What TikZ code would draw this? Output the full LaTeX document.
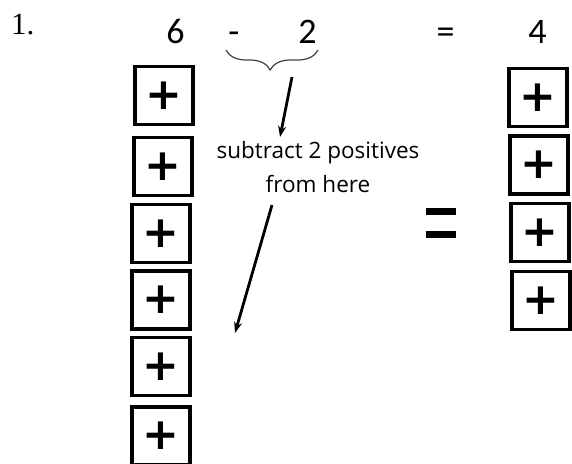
\documentclass[tikz,border=0pt]{standalone}
\usepackage{fontspec}
\setmainfont{Liberation Serif}
\newfontfamily\digitfont{Carlito}
\newfontfamily\notefont{Open Sans}
\newfontfamily\plusfont{DejaVu Sans}
\usetikzlibrary{arrows.meta,decorations.pathreplacing}

\begin{document}
\begin{tikzpicture}[
  x=1pt,y=-1pt,
  tile/.style={draw,line width=3.8pt,minimum size=58pt,inner sep=0pt,font=\plusfont\bfseries\fontsize{44}{44}\selectfont},
  numeral/.style={inner sep=0pt,anchor=base,font=\digitfont\fontsize{36}{36}\selectfont},
  note/.style={inner sep=0pt,align=center,font=\notefont\fontsize{22.5}{34}\selectfont},
  pointer/.style={line width=2.8pt,-{Stealth[length=11pt,width=8pt]}},
  bigeq/.style={line width=7pt}
]
  \useasboundingbox (0,0) rectangle (572,463);
  \node[inner sep=0pt,anchor=base west,font=\fontsize{31}{31}\selectfont] (lbl) at (11,34) {1.};
  \node[numeral] (n6) at (175.5,43) {6};
  \node[numeral] (mn) at (234,43) {-};
  \node[numeral] (n2) at (307.5,43) {2};
  \node[numeral] (eq) at (445.5,43) {=};
  \node[numeral] (n4) at (537.5,43) {4};
  \node[tile] (l1) at (164,95.5) {+};
  \node[tile] (l2) at (163,166.5) {+};
  \node[tile] (l3) at (161,233.5) {+};
  \node[tile] (l4) at (161,300) {+};
  \node[tile] (l5) at (161,366.5) {+};
  \node[tile] (l6) at (161,436) {+};
  \node[tile] (r1) at (538,97.5) {+};
  \node[tile] (r2) at (539,165) {+};
  \node[tile] (r3) at (540,232.5) {+};
  \node[tile] (r4) at (541,300.5) {+};
  \node[note] (txt) at (318,167) {subtract 2 positives\\from here};
  \coordinate (bl) at (226,50);
  \coordinate (br) at (318,50);
  \coordinate (a1) at (292,77);
  \coordinate (a1e) at (280,137);
  \coordinate (a2) at (272,205);
  \coordinate (a2e) at (235,333);
  \draw[line width=1.2pt,black!75,decorate,decoration={brace,mirror,amplitude=20pt,aspect=0.48}] (bl) -- (br);
  \draw[pointer] (a1) -- (a1e);
  \draw[pointer] (a2) -- (a2e);
  \draw[bigeq] (426,211.5) -- (456,211.5);
  \draw[bigeq] (426,234.5) -- (456,234.5);
\end{tikzpicture}
\end{document}
